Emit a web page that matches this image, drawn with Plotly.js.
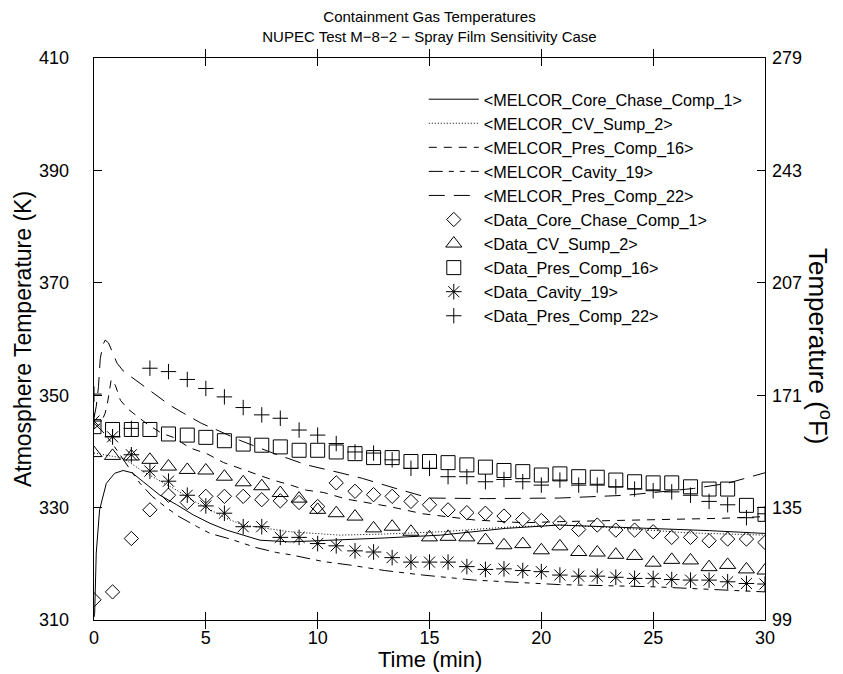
<!DOCTYPE html>
<html>
<head>
<meta charset="utf-8">
<script src="https://cdn.plot.ly/plotly-3.0.1.min.js"></script>
<style>html,body{margin:0;padding:0;background:#fff;}#chart{width:843px;height:674px;}</style>
</head>
<body>
<div id="chart"></div>
<script>
// ---- Data ----
var dataTime = [0,0.83,1.67,2.5,3.33,4.17,5,5.83,6.67,7.5,8.33,9.17,10,10.83,11.67,12.5,13.33,14.17,15,15.83,16.67,17.5,18.33,19.17,20,20.83,21.67,22.5,23.33,24.17,25,25.83,26.67,27.5,28.33,29.17,30];

var dataCoreChase1 = [313.6,315.0,324.5,329.6,332.2,330.9,332.0,332.0,332.0,331.4,331.2,330.9,330.2,334.4,332.9,332.3,332.0,331.1,330.5,329.6,329.1,329.0,328.5,327.9,327.7,327.3,326.1,326.9,326.0,326.0,325.7,324.7,324.7,324.1,324.4,324.4,323.8];
var dataCVSump2 = [339.7,339.2,339.1,338.5,337.3,336.7,336.6,335.5,334.5,333.8,332.6,331.6,329.6,329.0,328.4,326.3,326.6,325.7,324.7,324.8,324.7,324.2,323.3,323.5,322.4,323.1,322.1,322.0,321.6,321.4,320.2,320.7,320.6,319.4,319.8,319.0,318.8];
var dataPresComp16 = [344.4,343.9,343.9,343.9,343.1,342.9,342.5,341.9,341.3,341.1,340.8,340.2,340.2,339.9,339.6,338.9,338.9,338.2,338.2,338.0,337.6,337.2,336.6,336.4,335.8,336.0,335.5,335.4,334.9,334.6,334.4,334.4,333.7,333.3,333.3,330.4,328.8];
var dataCavity19 = [345.4,342.6,339.4,336.5,334.7,332.2,330.3,329.0,326.6,326.6,324.7,324.7,323.6,323.2,322.3,322.1,321.1,320.3,320.3,320.3,319.5,319.0,319.1,318.8,318.6,318.0,317.8,317.8,317.6,317.4,317.4,317.2,317.1,317.1,316.8,316.5,316.4];
var dataPresComp22 = [350.2,342.6,344.1,354.8,354.2,352.8,351.2,349.7,347.8,346.5,345.9,343.8,342.9,341.4,339.9,339.7,338.5,337.0,337.0,335.5,335.5,334.6,335.0,334.6,334.0,334.9,334.0,334.0,333.7,333.3,333.0,332.8,332.2,331.1,330.5,328.2,328.9];

var melCoreTime = [0,0.03,0.1,0.25,0.55,0.92,1.3,1.7,2.2,2.95,3.7,4.44,5.19,5.93,6.67,7.42,8.76,11,13,15.5,18.4,20.8,23,25.1,27.5,30];
var melCoreChase1 = [310.5,311.2,321.9,329.6,334.3,336.1,336.6,336.2,334.6,332.2,330.5,328.7,327.2,326.0,325.1,324.2,323.9,324.2,324.6,325.1,326.3,326.9,326.6,326.3,325.9,325.4];

var melSumpTime = [0,0.5,1.0,1.31,2.2,3.0,3.7,4.4,5.19,5.9,6.67,7.42,8.76,11,13,15.5,18.4,20.8,23,26.6,30];
var melCVSump2 = [339.7,339.4,339.0,338.8,336.4,334.7,333.1,331.3,329.6,328.1,326.9,326.5,325.7,325.1,325.3,325.7,326.5,326.9,326.5,325.5,325.1];

var melP16Time = [0,0.3,0.5,0.62,0.77,0.95,1.18,1.5,1.85,2.4,3.04,3.55,4.3,5.04,5.8,6.5,7.3,8.0,8.8,9.5,10.25,11.3,13.2,14.7,17,19.2,20.8,25.1,28.1,30];
var melPresComp16 = [344.0,345.0,346.8,349.0,352.8,351.8,349.1,347.6,346.5,344.8,343.2,342.5,340.6,339.6,338.0,337.0,335.8,334.9,334.0,333.1,332.7,331.5,330.2,328.9,327.8,327.3,327.5,327.8,328.1,328.4];

var melCavTime = [0,0.4,0.8,1.3,1.7,2.06,2.6,3.17,3.8,4.62,5.19,6.1,7.23,8.17,8.8,10.25,11.4,13,14.7,17,20.8,25.1,30];
var melCavity19 = [345.0,343.5,341.5,338.5,336.3,334.3,332.0,330.2,328.4,326.6,325.4,324.4,322.9,322.0,321.6,320.4,319.8,318.8,318.0,317.1,316.3,315.9,315.0];

var melP22Time = [0,0.1,0.2,0.28,0.4,0.5,0.65,0.8,1.03,1.31,1.85,2.4,2.9,3.4,4.0,4.8,5.5,6.5,8.0,9.5,11,12,13.5,15,17.5,20.8,23.8,26.8,28.3,30];
var melPresComp22 = [346.0,348.0,351.5,356.5,359.0,359.8,359.3,358.0,355.7,354.3,352.7,351.0,349.6,348.2,346.8,345.0,343.8,342.0,339.7,337.6,336.2,335.2,333.4,331.7,331.6,331.7,332.2,333.4,334.3,336.2];

var leftTicks = [310,330,350,370,390,410];
var rightTickText = ['99','135','171','207','243','279'];
var xTicks = [0,5,10,15,20,25,30];

// ---- Traces ----
var FONT = 'Liberation Sans, Arial, Helvetica, sans-serif';
function lineTrace(x, y, name, dash) {
  return {x: x, y: y, name: name, type: 'scatter', mode: 'lines',
          line: {color: '#000', width: 1, dash: dash}, hoverinfo: 'skip'};
}
function markTrace(x, y, name, symbol, size) {
  return {x: x, y: y, name: name, type: 'scatter', mode: 'markers',
          marker: {symbol: symbol, size: size, color: '#000', line: {color: '#000', width: 1}},
          hoverinfo: 'skip'};
}
var traces = [
  lineTrace(melCoreTime, melCoreChase1, '&lt;MELCOR_Core_Chase_Comp_1&gt;', 'solid'),
  lineTrace(melSumpTime, melCVSump2, '&lt;MELCOR_CV_Sump_2&gt;', '1px,2px'),
  lineTrace(melP16Time, melPresComp16, '&lt;MELCOR_Pres_Comp_16&gt;', '8px,7px'),
  lineTrace(melCavTime, melCavity19, '&lt;MELCOR_Cavity_19&gt;', '14px,6px,5px,6px,5px,6px'),
  lineTrace(melP22Time, melPresComp22, '&lt;MELCOR_Pres_Comp_22&gt;', '16px,9px'),
  markTrace(dataTime, dataCoreChase1, '&lt;Data_Core_Chase_Comp_1&gt;', 'diamond-open', 11),
  markTrace(dataTime, dataCVSump2, '&lt;Data_CV_Sump_2&gt;', 'triangle-up-open', 14),
  markTrace(dataTime, dataPresComp16, '&lt;Data_Pres_Comp_16&gt;', 'square-open', 14),
  markTrace(dataTime, dataCavity19, '&lt;Data_Cavity_19&gt;', 'asterisk-open', 13),
  markTrace(dataTime, dataPresComp22, '&lt;Data_Pres_Comp_22&gt;', 'cross-thin-open', 11),
  {x: [0], y: [310], yaxis: 'y2', type: 'scatter', mode: 'markers',
   marker: {opacity: 0}, showlegend: false, hoverinfo: 'skip'}
];

var layout = {
  width: 843, height: 674,
  paper_bgcolor: '#fff', plot_bgcolor: '#fff',
  margin: {l: 94, r: 78, t: 58, b: 54},
  font: {family: FONT, color: '#000', size: 17},
  title: {text: 'Containment Gas Temperatures<br>NUPEC Test M\u22128\u22122 \u2212 Spray Film Sensitivity Case',
          font: {family: FONT, size: 15, color: '#000'}, x: 0.5, xref: 'paper', y: 0.967, yanchor: 'top'},
  showlegend: true,
  legend: {x: 0.4915, y: 0.957, xanchor: 'left', yanchor: 'top', bgcolor: 'rgba(0,0,0,0)',
           font: {family: FONT, size: 16.2, color: '#000'}, itemwidth: 50, tracegroupgap: 0},
  xaxis: {range: [0, 30], tickvals: xTicks, ticks: 'inside', ticklen: 8, tickwidth: 1, tickcolor: '#000',
          showline: true, linecolor: '#000', linewidth: 1.3, mirror: 'allticks', showgrid: false, zeroline: false,
          tickfont: {family: FONT, size: 18}, ticklabelstandoff: 1},
  yaxis: {range: [310, 410], tickvals: leftTicks, ticks: 'inside', ticklen: 8, tickwidth: 1, tickcolor: '#000',
          showline: true, linecolor: '#000', linewidth: 1.3, showgrid: false, zeroline: false,
          tickfont: {family: FONT, size: 18}, ticklabelstandoff: 20,
          title: {text: 'Atmosphere Temperature (K)', font: {family: FONT, size: 23}, standoff: 1}},
  yaxis2: {range: [310, 410], overlaying: 'y', side: 'right', tickvals: leftTicks, ticktext: rightTickText,
           ticks: 'inside', ticklen: 8, tickwidth: 1, tickcolor: '#000', showline: true, linecolor: '#000',
           linewidth: 1.3, showgrid: false, zeroline: false, tickfont: {family: FONT, size: 18}, ticklabelstandoff: 2},
  annotations: [
    {text: 'Time (min)', xref: 'paper', yref: 'paper', x: 0.5, y: -0.0705, xanchor: 'center', yanchor: 'middle',
     showarrow: false, font: {family: FONT, size: 22, color: '#000'}},
    {text: 'Temperature (<sup>o</sup>F)', xref: 'paper', yref: 'paper', x: 1.082, y: 0.4875,
     xanchor: 'center', yanchor: 'middle',
     textangle: 90, showarrow: false, font: {family: FONT, size: 26, color: '#000'}}
  ]
};

Plotly.newPlot('chart', traces, layout, {staticPlot: true, displayModeBar: false});
</script>
</body>
</html>
